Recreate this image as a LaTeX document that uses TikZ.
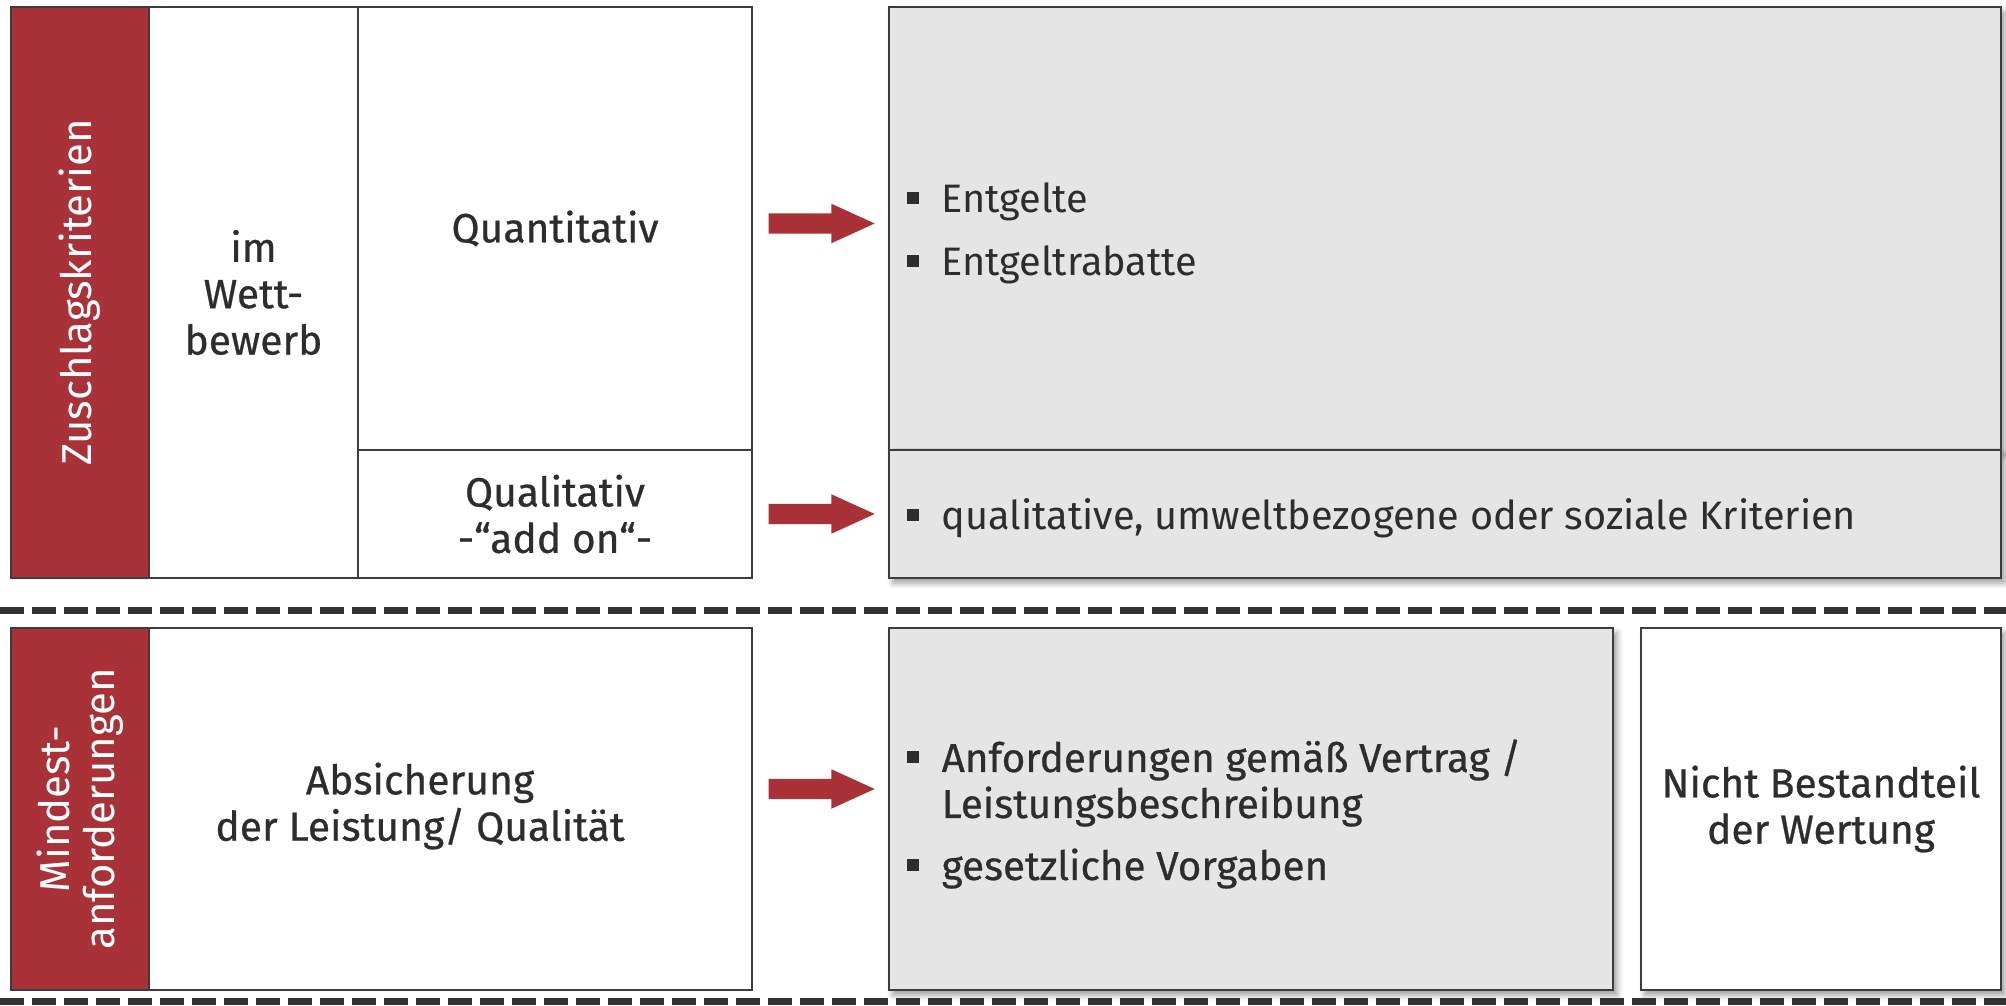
\documentclass[tikz,border=0pt]{standalone}
\usepackage{fontspec}
\setmainfont{Fira Sans}
\newfontfamily\medfont[FakeBold=0.6]{Fira Sans}
\usetikzlibrary{shapes.arrows,shadows.blur,calc}

\definecolor{zred}{RGB}{169,50,56}
\definecolor{zgray}{RGB}{229,229,229}
\definecolor{zline}{RGB}{60,60,60}
\definecolor{zdash}{RGB}{50,50,50}
\definecolor{ztext}{RGB}{45,45,45}

% small square bullet in front of a list line
\newcommand{\sqb}{\makebox[3.5mm][l]{\raisebox{0.9mm}{\rule{1.2mm}{1.2mm}}}}

\begin{document}
\begin{tikzpicture}[x=1mm,y=-1mm,
    cell/.style={rectangle,draw=zline,line width=0.2mm,inner sep=0pt,anchor=north west},
    redcell/.style={cell,fill=zred},
    whitecell/.style={cell,fill=white},
    graycell/.style={cell,fill=zgray,blur shadow={shadow xshift=0.4mm,shadow yshift=-0.5mm,shadow blur radius=0.6mm,shadow opacity=40}},
    barlabel/.style={text=white,rotate=90,align=center,font=\fontsize{11.9}{12.6}\selectfont},
    celltext/.style={text=ztext,align=center,font=\medfont\fontsize{11.6}{13.2}\selectfont},
    itemtext/.style={text=ztext,anchor=base west,inner sep=0pt,font=\fontsize{11.3}{13}\selectfont},
    itemtextb/.style={itemtext,font=\medfont\fontsize{11.5}{13}\selectfont},
    blockarrow/.style={single arrow,fill=zred,draw=none,anchor=tail,inner xsep=0pt,inner ysep=0.95mm,minimum height=10.6mm,
      single arrow head extend=0.95mm,single arrow tip angle=49,single arrow head indent=0mm},
    sepline/.style={draw=zdash,line width=0.7mm,dash pattern=on 2.4mm off 0.8mm}]

  \useasboundingbox (0,0) rectangle (200.6,100.6);

  % upper block: Zuschlagskriterien
  \node[redcell,minimum width=13.8mm,minimum height=57.1mm]   (zbar)  at (1,0.6)    {};
  \node[whitecell,minimum width=20.9mm,minimum height=57.1mm] (wett)  at (14.8,0.6) {};
  \node[whitecell,minimum width=39.4mm,minimum height=44.3mm] (quant) at (35.7,0.6) {};
  \node[whitecell,minimum width=39.4mm,minimum height=12.8mm] (qual)  at (35.7,44.9) {};

  \node[graycell,minimum width=111.2mm,minimum height=44.3mm] (gtop) at (88.8,0.6)  {};
  \node[graycell,minimum width=111.2mm,minimum height=12.8mm] (gbot) at (88.8,44.9) {};

  \node[barlabel] (zlab) at (zbar.center) {Zuschlagskriterien};
  \node[celltext] (wlab) at (wett.center)  {im\\Wett-\\bewerb};
  \node[celltext] (qnlab) at (quant.center) {Quantitativ};
  \node[celltext] (qllab) at (qual.center)  {Qualitativ\\-“add on“-};

  \node[itemtext] (e1) at (90.6,21.3) {\sqb Entgelte};
  \node[itemtext] (e2) at (90.6,27.6) {\sqb Entgeltrabatte};
  \node[itemtext] (e3) at (90.6,53.0) {\sqb qualitative, umweltbezogene oder soziale Kriterien};

  \node[blockarrow] (ar1) at ($(quant.east)+(1.5,-0.5)$) {};
  \node[blockarrow] (ar2) at ($(qual.east)+(1.5,0)$) {};

  \draw[sepline] (0,61.1) -- (200.6,61.1);

  % lower block: Mindestanforderungen
  \node[redcell,minimum width=13.8mm,minimum height=36.2mm]   (mbar)   at (1,62.7)    {};
  \node[whitecell,minimum width=60.3mm,minimum height=36.2mm] (absi)   at (14.8,62.7) {};
  \node[graycell,minimum width=72.4mm,minimum height=36.2mm]  (greq)   at (88.8,62.7) {};
  \node[graycell,fill=white,minimum width=36mm,minimum height=36.2mm] (nicht) at (164,62.7) {};

  \node[barlabel] (mlab) at (mbar.center) {Mindest-\\anforderungen};
  \node[celltext] (alab) at (42.0,80.6) {Absicherung\\der Leistung/ Qualität};
  \node[celltext] (nlab) at (nicht.center) {Nicht Bestandteil\\der Wertung};

  \node[itemtextb] (r1) at (90.6,77.2) {\sqb Anforderungen gemäß Vertrag /};
  \node[itemtextb] (r2) at (94.1,81.8) {Leistungsbeschreibung};
  \node[itemtextb] (r3) at (90.6,88.0) {\sqb gesetzliche Vorgaben};

  \node[blockarrow] (ar3) at ($(absi.east)+(1.5,-2)$) {};

  \draw[sepline] (0,100.2) -- (200.6,100.2);
\end{tikzpicture}
\end{document}
